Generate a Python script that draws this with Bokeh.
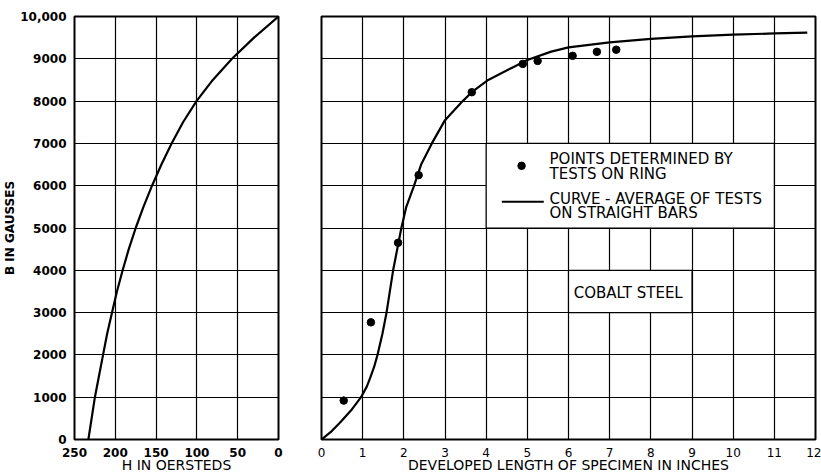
from bokeh.plotting import figure
from bokeh.layouts import row
from bokeh.models import Range1d, FixedTicker
from bokeh.core.properties import value
from bokeh.embed import file_html
from bokeh.resources import INLINE

# ---------------- data ----------------
B_ticks = [0, 1000, 2000, 3000, 4000, 5000, 6000, 7000, 8000, 9000, 10000]
H_ticks = [250, 200, 150, 100, 50, 0]
L_ticks = [0, 1, 2, 3, 4, 5, 6, 7, 8, 9, 10, 11, 12]

# demagnetization curve (left panel)
H_curve = [233, 229, 225, 220, 215, 210, 204, 198, 191, 183.5, 175, 165.5, 155, 143.5, 131, 117,
           100.5, 80.5, 57, 30, 0]
B_curve_H = [0, 500, 1000, 1500, 2000, 2500, 3000, 3500, 4000, 4500, 5000, 5500, 6000, 6500, 7000,
             7500, 8000, 8500, 9000, 9500, 10000]

# average curve from straight bars (right panel)
length_curve = [0, 0.25, 0.48, 0.72, 0.96, 1.1, 1.18, 1.28, 1.36, 1.48, 1.58, 1.66, 1.74, 1.84, 1.94,
                2.06, 2.24, 2.42, 2.68, 3.0, 3.43, 3.65, 4.05, 4.69, 5.0, 5.58, 6.0, 7.0, 8.0, 9.0,
                10.0, 11.0, 11.8]
B_curve_len = [0, 200, 430, 690, 1000, 1250, 1450, 1720, 2000, 2500, 3000, 3500, 4000, 4500, 5000,
               5500, 5980, 6500, 7000, 7550, 8000, 8210, 8500, 8820, 8970, 9170, 9270, 9390, 9470, 9530,
               9570, 9600, 9620]

# ring test points
ring_length = [0.54, 1.2, 1.86, 2.36, 3.65, 4.89, 5.25, 6.1, 6.69, 7.16]
ring_B = [920, 2770, 4650, 6250, 8210, 8880, 8950, 9070, 9165, 9215]

legend_texts = ["POINTS DETERMINED BY", "TESTS ON RING", "CURVE - AVERAGE OF TESTS", "ON STRAIGHT BARS"]
panel_label = "COBALT STEEL"

FONT = "DejaVu Sans"
HEIGHT = 475


def style(p):
    p.background_fill_color = "white"
    p.border_fill_color = "white"
    p.outline_line_color = "black"
    p.outline_line_width = 2
    p.grid.grid_line_color = "black"
    p.grid.grid_line_width = 1.2
    p.grid.grid_line_alpha = 1.0
    for ax in p.axis:
        ax.axis_line_color = None
        ax.major_tick_line_color = None
        ax.minor_tick_line_color = None
        ax.major_label_text_font = FONT
        ax.major_label_text_color = "black"
        ax.axis_label_text_font = FONT
        ax.axis_label_text_color = "black"
        ax.axis_label_text_font_style = "normal"
    for ax in p.xaxis:
        ax.major_label_standoff = 2
        ax.axis_label_standoff = -3
        ax.major_label_text_font_size = "12px"
        ax.axis_label_text_font_size = "14px"


# ---------------- left panel ----------------
left = figure(width=290, height=HEIGHT, output_backend="svg", toolbar_location=None,
              x_range=Range1d(250, 0), y_range=Range1d(0, 10000),
              min_border_left=71, min_border_right=12, min_border_top=16, min_border_bottom=35)
style(left)
left.xaxis.ticker = FixedTicker(ticks=H_ticks)
left.yaxis.ticker = FixedTicker(ticks=B_ticks)
left.yaxis.major_label_overrides = {10000: "10,000"}
left.xaxis.axis_label = "H IN OERSTEDS"
left.yaxis.axis_label = "B IN GAUSSES"
left.yaxis.major_label_text_font_size = "12px"
left.xaxis.major_label_text_font_style = "bold"
left.yaxis.major_label_text_font_style = "bold"
left.yaxis.axis_label_text_font_size = "12px"
left.yaxis.axis_label_text_font_style = "bold"
left.yaxis.major_label_standoff = 2
left.yaxis.axis_label_standoff = 0
left.line(H_curve, B_curve_H, line_color="black", line_width=2.2)

# ---------------- right panel ----------------
right = figure(width=531, height=HEIGHT, output_backend="svg", toolbar_location=None,
               x_range=Range1d(0, 12), y_range=Range1d(0, 10000),
               min_border_left=31, min_border_right=6, min_border_top=16, min_border_bottom=35)
style(right)
right.xaxis.ticker = FixedTicker(ticks=L_ticks)
right.yaxis.ticker = FixedTicker(ticks=B_ticks)
right.yaxis.visible = False
right.xaxis.axis_label = "DEVELOPED LENGTH OF SPECIMEN IN INCHES"

# legend box and label box
right.quad(left=[4], right=[11], bottom=[5000], top=[7000], fill_color="white",
           line_color="black", line_width=1.2)
right.quad(left=[6], right=[9], bottom=[3000], top=[4000], fill_color="white",
           line_color="black", line_width=1.2)

right.line(length_curve, B_curve_len, line_color="black", line_width=2.2)
right.scatter(ring_length, ring_B, size=7.5, fill_color="black", line_color="black")

# legend content
right.scatter([4.86], [6470], size=7.5, fill_color="black", line_color="black")
right.line([4.38, 5.4], [5620, 5620], line_color="black", line_width=2)
right.text(x=[5.54, 5.54, 5.54, 5.54], y=[6635, 6280, 5690, 5365], text=legend_texts,
           text_font=value(FONT), text_font_size="15px", text_color="black",
           text_align="left", text_baseline="middle")
right.text(x=[7.45], y=[3470], text=[panel_label], text_font=value(FONT),
           text_font_size="15px", text_color="black", text_align="center",
           text_baseline="middle")

layout = row(left, right)

open("out.html", "w").write(file_html(layout, INLINE))
